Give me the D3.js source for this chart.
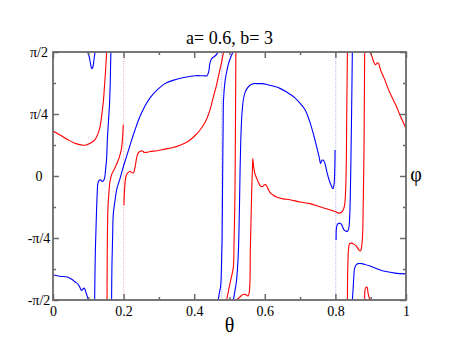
<!DOCTYPE html>
<html>
<head>
<meta charset="utf-8">
<script src="https://cdn.jsdelivr.net/npm/d3@7"></script>
<style>
  body { margin: 0; background: #fff; }
  svg { display: block; }
</style>
</head>
<body>
<svg id="chart"></svg>
<script>
const width = 457, height = 353;
const margin = { top: 52, right: 51, bottom: 53, left: 53 };
const H = Math.PI / 2;
const serif = "Liberation Serif, Times New Roman, Tinos, DejaVu Serif, Noto Serif, serif";

// title / labels
const titleText = "a= 0.6, b= 3";
const xLabel = "θ", yLabel = "φ";

// ticks
const xMajor = [0, 0.2, 0.4, 0.6, 0.8, 1];
const xMajorLabels = ["0", "0.2", "0.4", "0.6", "0.8", "1"];
const xMinor = [0.1, 0.3, 0.5, 0.7, 0.9];
const yMajor = [-H, -H / 2, 0, H / 2, H];
const yMajorLabels = ["-π/2", "-π/4", "0", "π/4", "π/2"];
const yMinor = [-3 * H / 4, -H / 4, H / 4, 3 * H / 4];

// blue branches, [theta, phi] (phi in rad, wraps at ±π/2)
const blue1 = [[0, -1.25], [0.020, -1.27], [0.040, -1.28], [0.054, -1.31], [0.062, -1.34], [0.071, -1.37],
  [0.076, -1.41], [0.081, -1.45], [0.085, -1.43], [0.088, -1.42], [0.091, -1.44], [0.093, -1.47],
  [0.096, -1.51], [0.100, -1.57]];
const blue2 = [[0.098, 1.57], [0.102, 1.52], [0.106, 1.43], [0.110, 1.36], [0.113, 1.38], [0.116, 1.47], [0.119, 1.57]];
const blue3 = [[0.118, -1.57], [0.120, -0.94], [0.123, -0.49], [0.125, -0.24], [0.127, -0.10], [0.130, -0.06],
  [0.135, -0.05], [0.139, -0.07], [0.143, -0.06], [0.146, -0.03], [0.149, 0.08], [0.152, 0.23], [0.154, 0.46],
  [0.157, 0.68], [0.160, 0.90], [0.162, 1.15], [0.163, 1.37], [0.164, 1.57]];
const blue4 = [[0.166, -1.57], [0.167, -1.13], [0.169, -0.75], [0.171, -0.47], [0.176, -0.30], [0.181, -0.16],
  [0.190, -0.03], [0.198, 0.10], [0.210, 0.27], [0.221, 0.43], [0.232, 0.58], [0.246, 0.75], [0.261, 0.89],
  [0.275, 0.99], [0.295, 1.09], [0.317, 1.17], [0.346, 1.22], [0.374, 1.25], [0.402, 1.27], [0.425, 1.27],
  [0.436, 1.27], [0.441, 1.32], [0.445, 1.44], [0.450, 1.49], [0.459, 1.52], [0.465, 1.55], [0.467, 1.57]];
const blue5 = [[0.468, -1.57], [0.471, -1.49], [0.475, -1.39], [0.477, -1.19], [0.479, -0.81], [0.480, -0.30],
  [0.481, 0.20], [0.482, 0.65], [0.483, 0.96], [0.487, 1.19], [0.492, 1.32], [0.497, 1.42], [0.504, 1.51], [0.510, 1.57]];
const blue6 = [[0.511, -1.57], [0.516, -1.44], [0.520, -1.32], [0.525, -0.98], [0.528, -0.43], [0.530, 0.08],
  [0.532, 0.46], [0.535, 0.77], [0.539, 0.96], [0.544, 1.06], [0.550, 1.11], [0.558, 1.15], [0.569, 1.17],
  [0.581, 1.17], [0.592, 1.17], [0.606, 1.16], [0.623, 1.14], [0.643, 1.11], [0.663, 1.06], [0.683, 1.00],
  [0.700, 0.92], [0.714, 0.84], [0.728, 0.68], [0.739, 0.51], [0.748, 0.35], [0.754, 0.24], [0.758, 0.16],
  [0.762, 0.20], [0.766, 0.20], [0.771, 0.15], [0.776, 0.05], [0.783, -0.06], [0.789, -0.13], [0.793, -0.16],
  [0.796, -0.11], [0.798, 0.05], [0.799, 0.33]];
const blue7 = [[0.802, -0.81], [0.803, -0.66], [0.806, -0.61], [0.810, -0.60], [0.814, -0.60], [0.819, -0.63],
  [0.824, -0.68], [0.830, -0.70], [0.834, -0.70], [0.838, -0.66], [0.840, -0.56], [0.842, -0.30], [0.844, 0.20],
  [0.846, 0.84], [0.848, 1.57]];
const blue8 = [[0.848, -1.57], [0.850, -1.44], [0.852, -1.29], [0.854, -1.18], [0.858, -1.13], [0.864, -1.11],
  [0.873, -1.11], [0.884, -1.12], [0.898, -1.14], [0.921, -1.18], [0.943, -1.21], [0.969, -1.23], [1.0, -1.24]];

// red branches
const red1 = [[0, 0.57], [0.020, 0.52], [0.042, 0.46], [0.065, 0.41], [0.091, 0.39], [0.108, 0.42], [0.119, 0.46],
  [0.127, 0.53], [0.133, 0.62], [0.137, 0.73], [0.140, 0.84], [0.143, 0.96], [0.146, 1.15], [0.149, 1.34], [0.152, 1.57]];
const red2 = [[0.153, -1.57], [0.154, -0.81], [0.156, -0.37], [0.159, -0.18], [0.161, -0.08], [0.167, 0.03],
  [0.173, 0.08], [0.178, 0.13], [0.184, 0.19], [0.190, 0.27], [0.194, 0.35], [0.197, 0.48], [0.199, 0.65]];
const red3 = [[0.201, -0.37], [0.203, -0.15], [0.207, 0], [0.212, 0.04], [0.218, 0.06], [0.224, 0.04], [0.228, 0.04],
  [0.232, 0.10], [0.237, 0.23], [0.241, 0.29], [0.246, 0.31], [0.252, 0.32], [0.258, 0.30], [0.266, 0.30],
  [0.275, 0.31], [0.295, 0.32], [0.317, 0.34], [0.340, 0.36], [0.360, 0.39], [0.380, 0.43], [0.402, 0.51],
  [0.416, 0.58], [0.431, 0.68], [0.445, 0.84], [0.453, 0.98], [0.462, 1.13], [0.470, 1.29], [0.477, 1.43], [0.483, 1.57]];
const red4 = [[0.492, -1.57], [0.496, -1.48], [0.501, -1.37], [0.507, -1.25], [0.511, -1.15], [0.513, -0.81],
  [0.515, -0.37], [0.516, 0.08], [0.517, 0.71], [0.518, 1.57]];
const red5 = [[0.520, -1.57], [0.525, -1.55], [0.530, -1.53], [0.535, -1.51], [0.539, -1.50], [0.544, -1.50],
  [0.549, -1.51], [0.553, -1.52], [0.556, -1.47], [0.558, -1.32], [0.559, -0.94], [0.561, -0.56], [0.563, -0.18],
  [0.565, 0.10], [0.566, 0.22], [0.568, 0.13], [0.572, 0.03], [0.578, -0.04], [0.584, -0.10], [0.589, -0.13],
  [0.595, -0.13], [0.599, -0.11], [0.603, -0.11], [0.609, -0.16], [0.615, -0.21], [0.623, -0.24], [0.635, -0.27],
  [0.652, -0.29], [0.671, -0.30], [0.700, -0.33], [0.728, -0.35], [0.756, -0.39], [0.779, -0.42], [0.799, -0.45],
  [0.810, -0.47], [0.817, -0.46], [0.822, -0.43], [0.826, -0.37], [0.829, -0.18], [0.831, 0.20], [0.832, 0.71], [0.834, 1.57]];
const red6 = [[0.834, -1.57], [0.835, -1.19], [0.837, -0.94], [0.840, -0.86], [0.846, -0.85], [0.851, -0.86],
  [0.860, -0.89], [0.867, -0.94], [0.871, -0.95], [0.874, -0.90], [0.877, -0.75], [0.879, -0.30], [0.881, 0.33],
  [0.882, 0.96], [0.883, 1.57]];
const red7 = [[0.883, -1.57], [0.884, -1.44], [0.887, -1.41], [0.890, -1.41], [0.892, -1.47], [0.895, -1.53], [0.898, -1.57]];
const red8 = [[0.898, 1.57], [0.904, 1.51], [0.909, 1.44], [0.914, 1.41], [0.918, 1.43], [0.922, 1.43], [0.925, 1.39],
  [0.929, 1.33], [0.938, 1.24], [0.949, 1.11], [0.960, 1.00], [0.972, 0.89], [0.983, 0.77], [0.992, 0.68], [1.0, 0.60]];

// nearly vertical jumps, drawn with very few points (faint)
const blueJumps = [0.478, 0.801];
const redJumps = [0.2];

const blueSegments = [blue1, blue2, blue3, blue4, blue5, blue6, blue7, blue8];
const redSegments = [red1, red2, red3, red4, red5, red6, red7, red8];

const svg = d3.select("#chart").attr("width", width).attr("height", height);

const x = d3.scaleLinear().domain([0, 1]).range([margin.left, width - margin.right]);
const y = d3.scaleLinear().domain([-H, H]).range([height - margin.bottom, margin.top]);

svg.append("defs").append("clipPath").attr("id", "clip")
  .append("rect")
  .attr("x", x(0)).attr("y", y(H))
  .attr("width", x(1) - x(0)).attr("height", y(-H) - y(H));

const line = d3.line()
  .x(d => x(d[0]))
  .y(d => y(d[1]))
  .curve(d3.curveCatmullRom.alpha(0.5));

const plot = svg.append("g").attr("clip-path", "url(#clip)");

// faint jump lines
plot.selectAll(".bj").data(blueJumps).enter().append("line")
  .attr("x1", d => x(d)).attr("x2", d => x(d))
  .attr("y1", y(-H)).attr("y2", y(H))
  .attr("stroke", "#0000ff").attr("stroke-opacity", 0.3)
  .attr("stroke-width", 1).attr("stroke-dasharray", "1,1");
plot.selectAll(".rj").data(redJumps).enter().append("line")
  .attr("x1", d => x(d)).attr("x2", d => x(d))
  .attr("y1", y(-H)).attr("y2", y(H))
  .attr("stroke", "#ff0000").attr("stroke-opacity", 0.3)
  .attr("stroke-width", 1).attr("stroke-dasharray", "1,1");

plot.selectAll(".red").data(redSegments).enter().append("path")
  .attr("d", line).attr("fill", "none")
  .attr("stroke", "#ff0000").attr("stroke-width", 1.1);

plot.selectAll(".blue").data(blueSegments).enter().append("path")
  .attr("d", line).attr("fill", "none")
  .attr("stroke", "#0000ff").attr("stroke-width", 1.1);

// axes (ticks pointing inward on all four sides)
const frameColor = "#6a6a6a";
function styleAxis(g) {
  g.attr("font-family", serif).attr("font-size", 14);
  g.select(".domain").remove();
  g.selectAll(".tick line").attr("stroke", frameColor).attr("stroke-width", 1.5);
  g.selectAll(".tick text").attr("fill", "#000");
}

const majorLen = 6, minorLen = 3;

svg.append("g").attr("transform", `translate(0,${y(-H)})`)
  .call(d3.axisBottom(x).tickValues(xMajor).tickSize(-majorLen).tickPadding(6)
    .tickFormat((d, i) => xMajorLabels[i]))
  .call(styleAxis);
svg.append("g").attr("transform", `translate(0,${y(-H)})`)
  .call(d3.axisBottom(x).tickValues(xMinor).tickSize(-minorLen).tickFormat(""))
  .call(styleAxis);
svg.append("g").attr("transform", `translate(0,${y(H)})`)
  .call(d3.axisTop(x).tickValues(xMajor).tickSize(-majorLen).tickFormat(""))
  .call(styleAxis);
svg.append("g").attr("transform", `translate(0,${y(H)})`)
  .call(d3.axisTop(x).tickValues(xMinor).tickSize(-minorLen).tickFormat(""))
  .call(styleAxis);

svg.append("g").attr("transform", `translate(${x(0)},0)`)
  .call(d3.axisLeft(y).tickValues(yMajor).tickSize(-majorLen).tickPadding(14)
    .tickFormat((d, i) => yMajorLabels[i]))
  .call(styleAxis)
  .call(g => g.selectAll("text").attr("text-anchor", "middle"));
svg.append("g").attr("transform", `translate(${x(0)},0)`)
  .call(d3.axisLeft(y).tickValues(yMinor).tickSize(-minorLen).tickFormat(""))
  .call(styleAxis);
svg.append("g").attr("transform", `translate(${x(1)},0)`)
  .call(d3.axisRight(y).tickValues(yMajor).tickSize(-majorLen).tickFormat(""))
  .call(styleAxis);
svg.append("g").attr("transform", `translate(${x(1)},0)`)
  .call(d3.axisRight(y).tickValues(yMinor).tickSize(-minorLen).tickFormat(""))
  .call(styleAxis);

// frame
svg.append("rect")
  .attr("x", x(0)).attr("y", y(H))
  .attr("width", x(1) - x(0)).attr("height", y(-H) - y(H))
  .attr("fill", "none").attr("stroke", frameColor).attr("stroke-width", 1.8);

// title and axis labels
svg.append("text")
  .attr("x", (x(0) + x(1)) / 2).attr("y", 44)
  .attr("text-anchor", "middle")
  .attr("font-family", serif).attr("font-size", 18)
  .text(titleText);

svg.append("text")
  .attr("x", (x(0) + x(1)) / 2).attr("y", 332)
  .attr("text-anchor", "middle")
  .attr("font-family", serif).attr("font-size", 20)
  .text(xLabel);

svg.append("text")
  .attr("x", 416).attr("y", y(0) + 5)
  .attr("text-anchor", "middle")
  .attr("font-family", serif).attr("font-size", 20)
  .text(yLabel);
</script>
</body>
</html>
